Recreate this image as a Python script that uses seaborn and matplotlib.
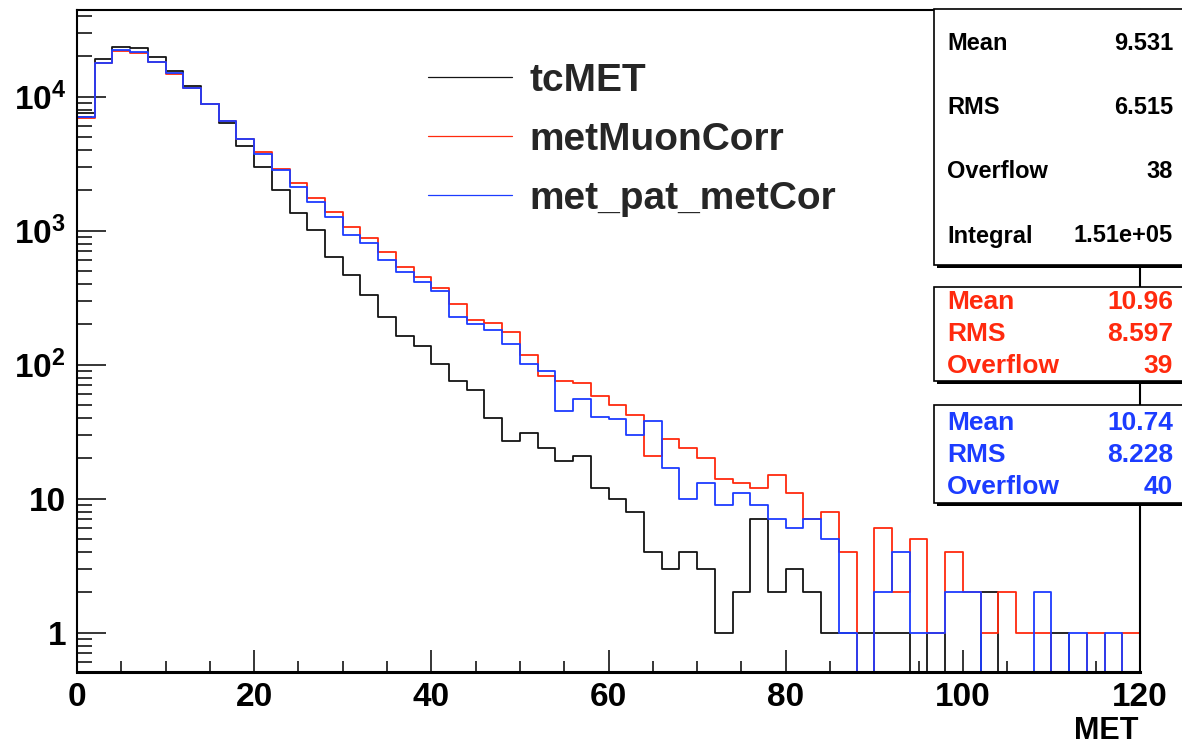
import numpy as np
import pandas as pd
import matplotlib
matplotlib.use("Agg")
import matplotlib.pyplot as plt
from matplotlib.ticker import FixedLocator, FixedFormatter, MultipleLocator, LogLocator, NullFormatter
from matplotlib.patches import Rectangle
from matplotlib.lines import Line2D
import seaborn as sns

# ---- MET histograms: 60 bins of 2 GeV from 0 to 120 ----
bin_width = 2
bin_range = (0, 120)

tcmet_counts = [
    7550, 19000, 23500, 23200, 19900, 15600, 12000, 8880, 6320, 4290,
    3000, 2000, 1355, 1012, 640, 470, 333, 228, 164, 138,
    102, 75, 65, 40, 27, 31, 24, 19, 21, 12,
    10, 8, 4, 3, 4, 3, 1, 2, 7, 2,
    3, 2, 1, 1, 1, 1, 1, 0, 1, 0,
    0, 2, 0, 0, 0, 1, 0, 0, 0, 0,
]
muoncorr_counts = [
    6900, 17700, 21900, 21300, 18100, 14800, 11550, 8830, 6600, 4810,
    3850, 2870, 2280, 1762, 1368, 1057, 877, 690, 533, 454,
    372, 282, 216, 204, 176, 118, 82, 76, 73, 58,
    50, 42, 21, 28, 24, 20, 14, 13, 12, 15,
    11, 7, 8, 4, 0, 6, 2, 5, 1, 4,
    2, 1, 2, 1, 1, 0, 0, 1, 0, 1,
]
patmet_counts = [
    7050, 17700, 22300, 21700, 18250, 15100, 11550, 8830, 6620, 4810,
    3730, 2820, 2130, 1645, 1272, 925, 813, 604, 494, 416,
    356, 228, 200, 181, 143, 101, 89, 45, 55, 41,
    39, 30, 38, 17, 10, 13, 9, 11, 9, 7,
    6, 7, 5, 1, 0, 2, 4, 1, 1, 2,
    2, 0, 0, 0, 2, 0, 1, 0, 1, 0,
]

series_names = ["tcMET", "metMuonCorr", "met_pat_metCor"]
series_counts = [tcmet_counts, muoncorr_counts, patmet_counts]
series_colors = ["#141414", "#ff2a0e", "#1c3cff"]

# statistics boxes
stat_labels = ["Mean", "RMS", "Overflow", "Integral"]
tcmet_stats = ["9.531", "6.515", "38", "1.51e+05"]
muoncorr_stats = ["10.96", "8.597", "39"]
patmet_stats = ["10.74", "8.228", "40"]

x_ticks = [0, 20, 40, 60, 80, 100, 120]
x_tick_labels = ["0", "20", "40", "60", "80", "100", "120"]
y_ticks = [1, 10, 100, 1000, 10000]
y_tick_labels = ["1", "10", "10$^{2}$", "10$^{3}$", "10$^{4}$"]
x_title = "MET"

# ---- style ----
sns.set_theme(style="white")
plt.rcParams["font.family"] = ["Liberation Sans", "DejaVu Sans"]
plt.rcParams["font.weight"] = "bold"
plt.rcParams["mathtext.fontset"] = "custom"
plt.rcParams["mathtext.rm"] = "Liberation Sans:bold"
plt.rcParams["mathtext.bf"] = "Liberation Sans:bold"
plt.rcParams["mathtext.default"] = "bf"

W, H = 1182, 748
fig = plt.figure(figsize=(W / 100, H / 100), dpi=100)


def fx(px):
    return px / W


def fy(py):
    return 1 - py / H


ax_left, ax_right, ax_top, ax_bottom = 77, 1140, 10, 672
ax = fig.add_axes([fx(ax_left), fy(ax_bottom), fx(ax_right - ax_left), (ax_bottom - ax_top) / H])

n_bins = len(tcmet_counts)
centers = bin_range[0] + bin_width * (np.arange(n_bins) + 0.5)
for name, counts, color in zip(series_names, series_counts, series_colors):
    df = pd.DataFrame({"MET": centers, "entries": counts})
    sns.histplot(data=df, x="MET", weights="entries", binwidth=bin_width,
                 binrange=bin_range, element="step", fill=False, color=color,
                 linewidth=1.3, ax=ax, label=name)

ax.set_yscale("log")
ax.set_xlim(0, 120)
ax.set_ylim(0.509, 44350)

ax.xaxis.set_major_locator(FixedLocator(x_ticks))
ax.xaxis.set_major_formatter(FixedFormatter(x_tick_labels))
ax.xaxis.set_minor_locator(MultipleLocator(5))
ax.yaxis.set_major_locator(FixedLocator(y_ticks))
ax.yaxis.set_major_formatter(FixedFormatter(y_tick_labels))
ax.yaxis.set_minor_locator(LogLocator(base=10, subs=np.arange(2, 10)))
ax.yaxis.set_minor_formatter(NullFormatter())

ax.tick_params(which="both", bottom=True, left=True, top=False, right=False)
ax.tick_params(axis="x", which="major", direction="in", length=16, width=1.1,
               labelsize=24, pad=7, color="black", labelcolor="black")
ax.tick_params(axis="x", which="minor", direction="in", length=8, width=1.1, color="black")
ax.tick_params(axis="y", which="major", direction="in", length=21, width=1.1,
               labelsize=24, pad=8, color="black", labelcolor="black")
ax.tick_params(axis="y", which="minor", direction="in", length=10.5, width=1.1, color="black")
for lab in ax.get_xticklabels() + ax.get_yticklabels():
    lab.set_fontweight("bold")

for side, sp in ax.spines.items():
    sp.set_visible(True)
    sp.set_color("black")
    sp.set_linewidth(1.5)
ax.spines["bottom"].set_linewidth(2.2)
ax.set_xlabel("")
ax.set_ylabel("")
ax.grid(False)

# x-axis title
fig.text(fx(1138), fy(731), x_title, ha="right", va="center", fontsize=22,
         fontweight="bold", color="black")

# legend without frame
handles = [Line2D([], [], color=c, lw=0.9) for c in series_colors]
ax.legend(handles, series_names, loc="upper left", frameon=False,
          bbox_to_anchor=(fx(428), fy(63)), bbox_transform=fig.transFigure,
          borderpad=0, borderaxespad=0, handlelength=2.15, handletextpad=0.45,
          labelspacing=0.59, prop={"size": 28, "weight": "bold"})


# statistics boxes
def stats_box(top, bottom, rows, labels, values, color, size):
    left, right = 934, 1196
    shadow = Rectangle((fx(left + 3), fy(bottom + 3)), fx(right - left), (bottom - top) / H,
                       transform=fig.transFigure, facecolor="black", edgecolor="black",
                       lw=0, zorder=10)
    box = Rectangle((fx(left), fy(bottom)), fx(right - left), (bottom - top) / H,
                    transform=fig.transFigure, facecolor="white", edgecolor="black",
                    lw=1.2, zorder=11)
    fig.add_artist(shadow)
    fig.add_artist(box)
    for yrow, lab, val in zip(rows, labels, values):
        fig.text(fx(947), fy(yrow), lab, ha="left", va="center", fontsize=size,
                 fontweight="bold", color=color, zorder=12)
        fig.text(fx(1173), fy(yrow), val, ha="right", va="center", fontsize=size,
                 fontweight="bold", color=color, zorder=12)


stats_box(9, 265, [43, 107, 171, 236], stat_labels, tcmet_stats, "black", 17)
stats_box(287, 381, [302, 334, 366], stat_labels[:3], muoncorr_stats, series_colors[1], 19)
stats_box(405, 503, [423, 455, 487], stat_labels[:3], patmet_stats, series_colors[2], 19)

fig.savefig("out.png", dpi=100, facecolor="white")
